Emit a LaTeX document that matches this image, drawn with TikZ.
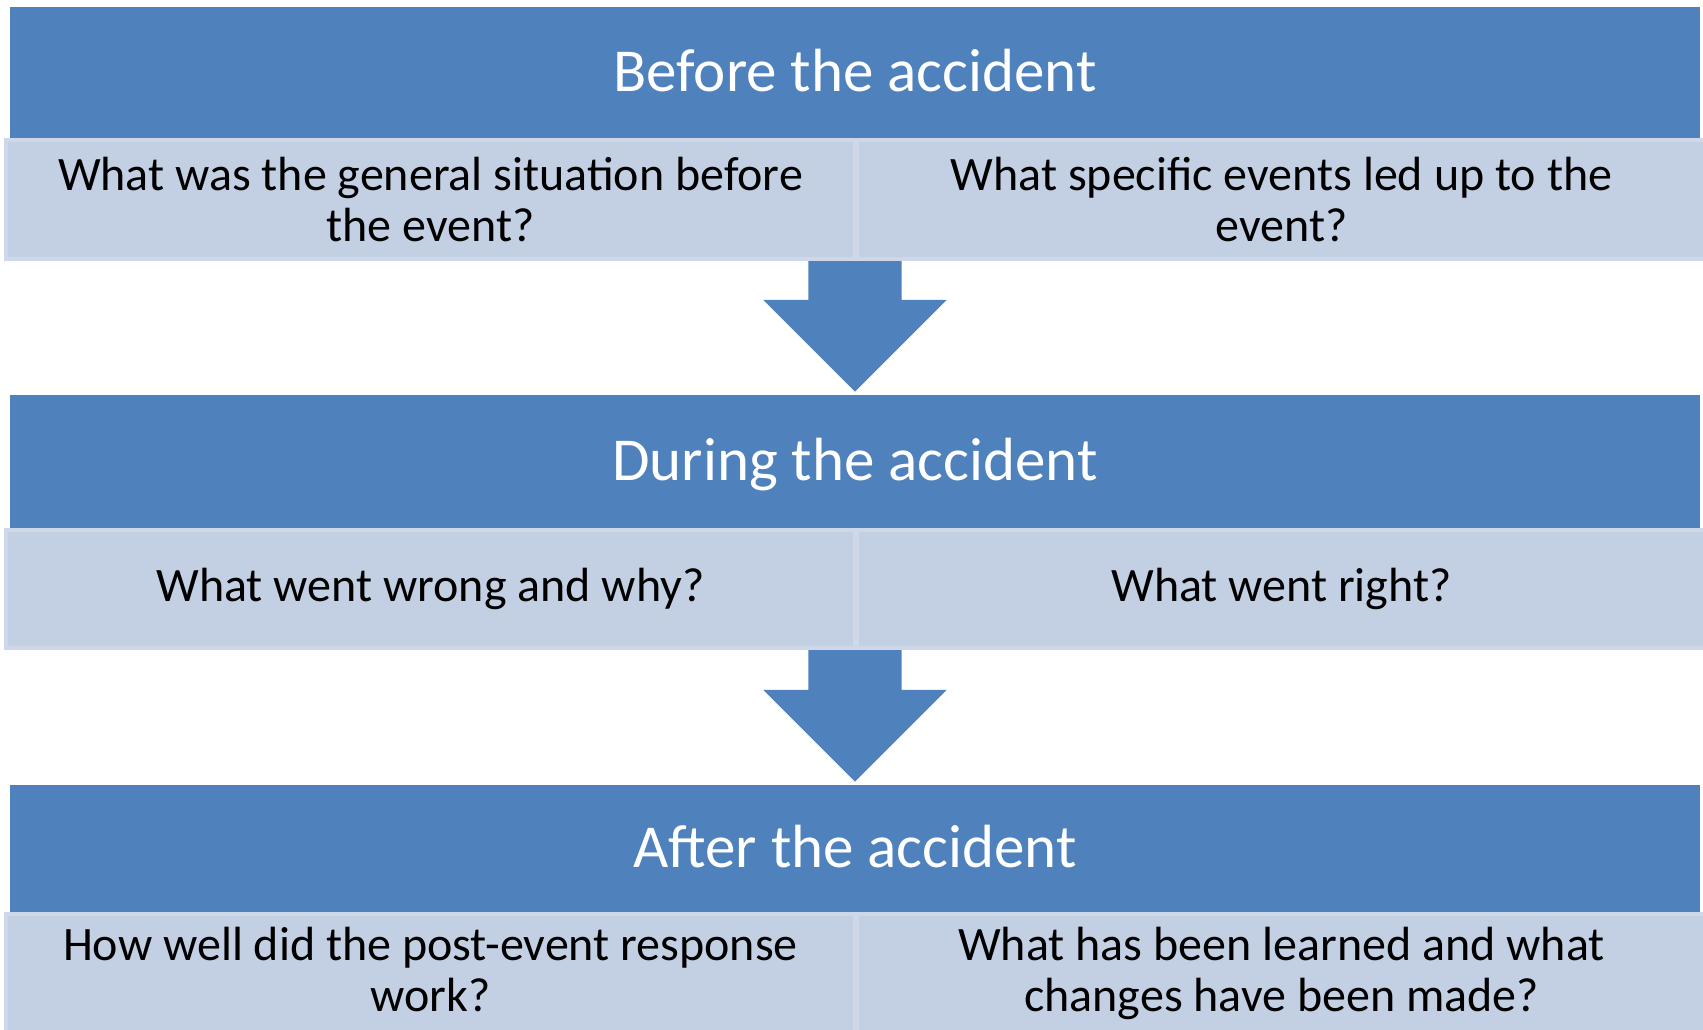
\documentclass[tikz,border=0pt]{standalone}
\usepackage{fontspec}
\setmainfont{Carlito}
\usetikzlibrary{calc}
\definecolor{hdrblue}{HTML}{4F81BD}
\definecolor{cellfill}{HTML}{C3CFE3}
\definecolor{celledge}{HTML}{CFD8E8}
\tikzset{
  header/.style={fill=hdrblue, draw=none, inner sep=0pt, minimum width=845pt,
    text=white, font=\fontsize{30.5pt}{36pt}\selectfont, text height=24pt, text depth=4.8pt},
  cell/.style={fill=cellfill, draw=celledge, line width=2pt, inner sep=0pt,
    minimum width=424.5pt, align=center, text=black,
    font=\fontsize{24pt}{25.5pt}\selectfont},
  blockarrow/.style={fill=hdrblue, draw=none}
}
\begin{document}
\begin{tikzpicture}[x=0.5pt,y=-0.5pt]
\clip (0,0) rectangle (1703,1029);
\fill[white] (0,0) rectangle (1703,1029);

% headers
\node[header, minimum height=65.8pt] (h1) at (855,72.5) {Before the accident};
\node[header, minimum height=66.4pt] (h2) at (855,461.4) {During the accident};
\node[header, minimum height=63.7pt] (h3) at (855,848.7) {After the accident};

% arrow 1
\coordinate (a1s) at (855,259.2);
\coordinate (a1t) at ([yshift=1.5pt]h2.north);
\coordinate (a1b) at ([yshift=45.85pt]a1t);
\fill[blockarrow] (a1t) -- ([xshift=-45.85pt]a1b) -- ([xshift=-23.35pt]a1b)
  -- ([xshift=-23.35pt]a1s) -- ([xshift=23.35pt]a1s) -- ([xshift=23.35pt]a1b)
  -- ([xshift=45.85pt]a1b) -- cycle;

% arrow 2
\coordinate (a2s) at (855,647.5);
\coordinate (a2t) at ([yshift=1.5pt]h3.north);
\coordinate (a2b) at ([yshift=45.85pt]a2t);
\fill[blockarrow] (a2t) -- ([xshift=-45.85pt]a2b) -- ([xshift=-23.35pt]a2b)
  -- ([xshift=-23.35pt]a2s) -- ([xshift=23.35pt]a2s) -- ([xshift=23.35pt]a2b)
  -- ([xshift=45.85pt]a2b) -- cycle;

% cells row 1
\node[cell, minimum height=59.6pt] (c1l) at (430.5,199.85) {What was the general situation before\\the event?};
\node[cell, minimum height=59.6pt] (c1r) at (1281.5,199.85) {What specific events led up to the\\event?};
% cells row 2
\node[cell, minimum height=58.8pt] (c2l) at (430.5,589) {What went wrong and why?};
\node[cell, minimum height=58.8pt] (c2r) at (1281.5,589) {What went right?};
% cells row 3
\node[cell, minimum height=59.3pt] (c3l) at (430.5,973.5) {How well did the post-event response\\work?\vphantom{g}};
\node[cell, minimum height=59.3pt] (c3r) at (1281.5,973.5) {What has been learned and what\\changes have been made?};
\end{tikzpicture}
\end{document}
